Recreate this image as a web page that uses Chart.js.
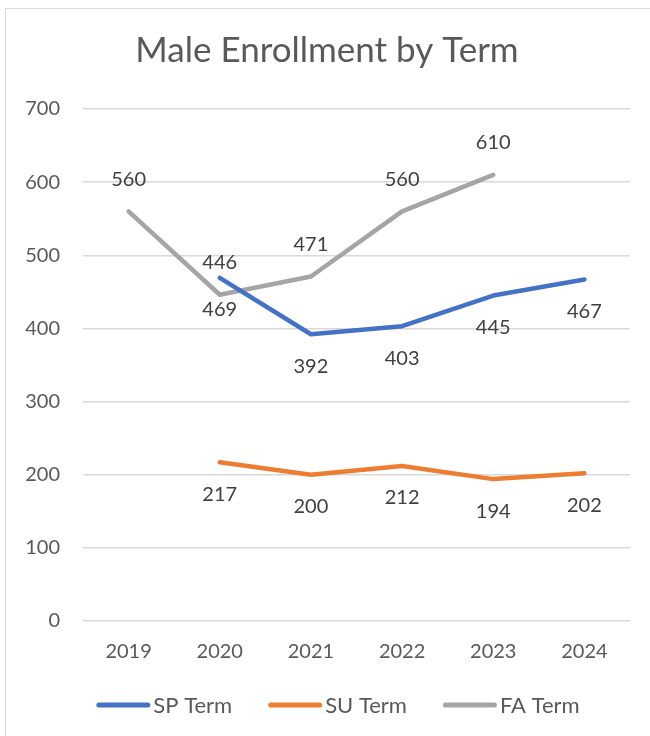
<!DOCTYPE html>
<html>
<head>
<meta charset="utf-8">
<script src="https://cdn.jsdelivr.net/npm/chart.js@4.4.1/dist/chart.umd.min.js"></script>
<style>
  html, body { margin: 0; padding: 0; background: #ffffff; }
  #wrap { width: 650px; height: 736px; }
</style>
</head>
<body>
<div id="wrap"><canvas id="c" width="650" height="736"></canvas></div>
<script>
const categories = ["2019", "2020", "2021", "2022", "2023", "2024"];
const spTerm = [null, 469, 392, 403, 445, 467];
const suTerm = [null, 217, 200, 212, 194, 202];
const faTerm = [560, 446, 471, 560, 610, null];
const seriesNames = ["SP Term", "SU Term", "FA Term"];
const yTicks = [0, 100, 200, 300, 400, 500, 600, 700];

const FONT = "Lato, 'Open Sans', sans-serif";
const TEXT = "#595959";

const borderPlugin = {
  id: "outerBorder",
  beforeDraw(chart) {
    const ctx = chart.ctx;
    ctx.save();
    ctx.fillStyle = "#ffffff";
    ctx.fillRect(0, 0, chart.width, chart.height);
    ctx.strokeStyle = "#d9d9d9";
    ctx.lineWidth = 1;
    ctx.strokeRect(5.5, 8.5, 700, 800);
    ctx.restore();
  }
};

const labelPlugin = {
  id: "valueLabels",
  afterDatasetsDraw(chart, args, opts) {
    const ctx = chart.ctx;
    ctx.save();
    ctx.font = "20px " + FONT;
    ctx.fillStyle = "#404040";
    ctx.textAlign = "center";
    ctx.textBaseline = "middle";
    chart.data.datasets.forEach((ds, i) => {
      const meta = chart.getDatasetMeta(i);
      const pos = opts.positions[i];
      meta.data.forEach((el, j) => {
        const v = ds.data[j];
        if (v === null || v === undefined) return;
        const dy = pos === "above" ? -opts.offset : opts.offset;
        ctx.fillText(String(v), el.x, el.y + dy);
      });
    });
    ctx.restore();
  }
};

// Legend drawn below the axis: line sample + series name for each dataset
const legendPlugin = {
  id: "lineLegend",
  afterDraw(chart, args, opts) {
    const ctx = chart.ctx;
    ctx.save();
    ctx.font = opts.fontSize + "px " + FONT;
    ctx.textBaseline = "middle";
    ctx.textAlign = "left";
    const items = chart.data.datasets.map(ds => ({
      text: ds.label,
      color: ds.borderColor,
      w: opts.lineLen + opts.gap + ctx.measureText(ds.label).width
    }));
    const total = items.reduce((s, it) => s + it.w, 0) + opts.itemGap * (items.length - 1);
    let x = opts.centerX - total / 2;
    const y = opts.y;
    items.forEach(it => {
      ctx.strokeStyle = it.color;
      ctx.lineWidth = 5;
      ctx.lineCap = "round";
      ctx.beginPath();
      ctx.moveTo(x + 2.5, y);
      ctx.lineTo(x + opts.lineLen - 2.5, y);
      ctx.stroke();
      ctx.fillStyle = TEXT;
      ctx.fillText(it.text, x + opts.lineLen + opts.gap, y + 1);
      x += it.w + opts.itemGap;
    });
    ctx.restore();
  }
};

new Chart(document.getElementById("c"), {
  type: "line",
  data: {
    labels: categories,
    datasets: [
      { label: seriesNames[0], data: spTerm, borderColor: "#4472C4", backgroundColor: "#4472C4" },
      { label: seriesNames[1], data: suTerm, borderColor: "#ED7D31", backgroundColor: "#ED7D31" },
      { label: seriesNames[2], data: faTerm, borderColor: "#A5A5A5", backgroundColor: "#A5A5A5" }
    ].map(d => Object.assign(d, {
      borderWidth: 4.5,
      pointRadius: 0,
      pointHoverRadius: 0,
      tension: 0,
      fill: false,
      spanGaps: false,
      borderCapStyle: "round",
      borderJoinStyle: "round"
    }))
  },
  options: {
    responsive: false,
    animation: false,
    events: [],
    layout: { padding: { left: 24, right: 20, top: 0, bottom: 67 } },
    scales: {
      x: {
        offset: true,
        grid: { display: false, drawTicks: false },
        border: { display: false },
        ticks: { color: TEXT, font: { family: FONT, size: 20 }, padding: 19, maxRotation: 0 },
        afterFit(scale) { scale.height = 48; }
      },
      y: {
        min: 0,
        max: 700,
        afterBuildTicks(scale) { scale.ticks = yTicks.map(v => ({ value: v })); },
        grid: { color: "#d9d9d9", lineWidth: 1.5, drawTicks: false },
        border: { display: false },
        ticks: { color: TEXT, font: { family: FONT, size: 20 }, padding: 23 },
        afterFit(scale) { scale.width = 59; }
      }
    },
    plugins: {
      title: {
        display: true,
        text: "Male Enrollment by Term",
        color: TEXT,
        font: { family: FONT, size: 35, weight: "normal" },
        padding: { top: 30, bottom: 37 }
      },
      legend: { display: false },
      tooltip: { enabled: false },
      valueLabels: { positions: ["below", "below", "above"], offset: 32 },
      lineLegend: { fontSize: 22, lineLen: 54, gap: 3, itemGap: 36, centerX: 338, y: 705 }
    }
  },
  plugins: [borderPlugin, labelPlugin, legendPlugin]
});
</script>
</body>
</html>
